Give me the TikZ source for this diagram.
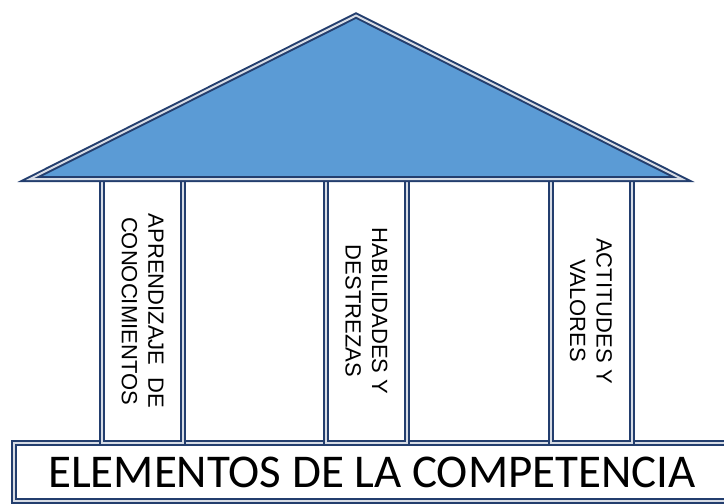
\documentclass[tikz,border=0pt]{standalone}
\usepackage{fontspec}
\setmainfont{Carlito}
\newfontfamily\pillarfont{Liberation Sans}
\definecolor{lineblue}{HTML}{233E6E}
\definecolor{roofblue}{HTML}{5B9BD5}
\begin{document}
\begin{tikzpicture}[x=1pt,y=-1pt]
            \tikzstyle{twin line}=[draw=lineblue,line width=2pt,double=lineblue!18,double distance=2pt]
            \tikzstyle{pillar}=[twin line,rectangle,fill=white,inner sep=0,rotate=-90,minimum width=264pt,minimum height=81pt,align=center,font=\pillarfont\fontsize{22}{26.5}\selectfont]
            \tikzstyle{base}=[twin line,rectangle,fill=white,inner sep=0,minimum width=716pt,minimum height=58pt,font=\fontsize{47}{50}\selectfont]

            \useasboundingbox (0,0) rectangle (724,504);

            \node(b)[base] at (372,472) {ELEMENTOS DE LA COMPETENCIA};

            \node(p1)[pillar] at (142.5,311) {APRENDIZAJE~~DE\\CONOCIMIENTOS};
            \node(p2)[pillar] at (366.5,311) {HABILIDADES Y\\DESTREZAS};
            \node(p3)[pillar] at (591,311) {ACTITUDES Y\\VALORES};

            \coordinate(top) at (356,15.5);
            \coordinate(left) at (30,179);
            \coordinate(right) at (682,179);
            \draw[twin line,fill=roofblue] (top) -- (right) -- (left) -- cycle;
        \end{tikzpicture}
\end{document}
